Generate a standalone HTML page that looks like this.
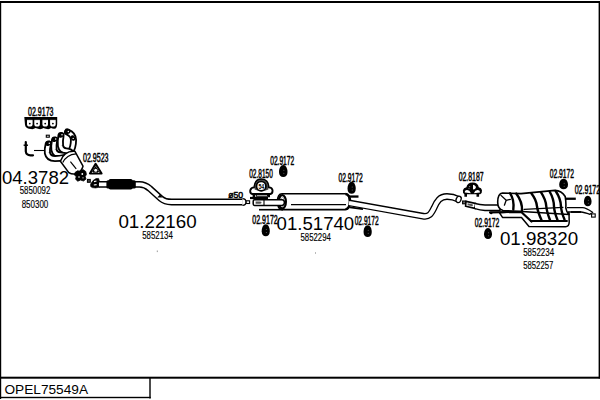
<!DOCTYPE html>
<html><head><meta charset="utf-8">
<style>
html,body{margin:0;padding:0;background:#fff;width:600px;height:400px;overflow:hidden}
svg{display:block}
.b{font-family:"Liberation Sans",sans-serif;font-size:12.2px;stroke:#000;stroke-width:0.5px}
.r{font-family:"Liberation Sans",sans-serif;font-size:10px;stroke:#000;stroke-width:0.15px}
.L{font-family:"Liberation Sans",sans-serif;font-size:19px}
</style></head><body>
<svg width="600" height="400" viewBox="0 0 600 400">
<!-- frame -->
<g fill="#000">
<rect x="0" y="1" width="600" height="2"/>
<rect x="0" y="1" width="1.2" height="398"/>
<rect x="598.6" y="1" width="1.4" height="377.5"/>
<rect x="0" y="376.7" width="600" height="2"/>
<rect x="149.3" y="377" width="1.4" height="21.5"/>
<rect x="0" y="396.8" width="150.7" height="1.4"/>
</g>
<text x="4.5" y="393.7" font-family="Liberation Sans" font-size="13.2" textLength="83.5" lengthAdjust="spacingAndGlyphs">OPEL75549A</text>


<!-- ===== LEFT: gasket 02.9173 ===== -->
<g id="gasket">
<path d="M24.3,117 H57.2 V124 Q57,128.5 54.5,128.8 Q52.5,129 51,128 Q49.5,129.5 47,129 Q44.5,128.5 43.5,128 Q41.5,129.5 39,129 Q37,128.5 35.5,128 Q33.5,129.5 31,129 Q28.5,128.8 27.5,128.3 Q25.5,128 25,125 Z" fill="#000"/>
<path d="M27,119.3 H32.6 V124.3 Q32.6,126.6 29.8,126.6 Q27,126.6 27,124.3Z M34.3,119.3 H39.9 V124.3 Q39.9,126.6 37.1,126.6 Q34.3,126.6 34.3,124.3Z M42.4,119.3 H48 V124.3 Q48,126.6 45.2,126.6 Q42.4,126.6 42.4,124.3Z M50.1,119.3 H55.7 V124.3 Q55.7,126.6 52.9,126.6 Q50.1,126.6 50.1,124.3Z" fill="#fff"/>
<path d="M26,119.6 H56" stroke="#000" stroke-width="0.9"/>
<circle cx="29.8" cy="123.6" r="0.9" fill="#000"/>
<circle cx="37.1" cy="123.6" r="0.9" fill="#000"/>
<circle cx="45.2" cy="123.6" r="0.9" fill="#000"/>
<circle cx="52.9" cy="123.6" r="0.9" fill="#000"/>
</g>
<!-- stud -->
<path d="M25.8,142 V151.5 Q26.2,155.2 30.5,155.3 H33" fill="none" stroke="#000" stroke-width="2.2" stroke-linecap="round"/>
<path d="M23.6,145.2 H28" stroke="#000" stroke-width="1.4"/>
<path d="M34,150.5 H44.5" stroke="#000" stroke-width="1.1"/>
<rect x="46.3" y="135.2" width="3" height="2" fill="none" stroke="#000" stroke-width="1.1"/>
<!-- manifold -->
<g fill="none" stroke-linecap="round" stroke-linejoin="round">
<path d="M67.5,132 Q73.5,134.5 73.5,140 Q73.5,148 70,152 Q67,155.5 63,157" stroke="#000" stroke-width="7"/>
<path d="M67.5,132 Q73.5,134.5 73.5,140 Q73.5,148 70,152 Q67,155.5 63,157" stroke="#fff" stroke-width="3.4"/>
<path d="M61,135.5 Q60,141 60.5,146 Q61.5,150.5 66,151 Q69,151.5 70,152" stroke="#000" stroke-width="7"/>
<path d="M61,135.5 Q60,141 60.5,146 Q61.5,150.5 66,151 Q69,151.5 70,152" stroke="#fff" stroke-width="3.4"/>
<path d="M54.6,140 Q53.5,146 54,150 Q55,154.5 60,155 Q64,155.5 66,156" stroke="#000" stroke-width="7"/>
<path d="M54.6,140 Q53.5,146 54,150 Q55,154.5 60,155 Q64,155.5 66,156" stroke="#fff" stroke-width="3.4"/>
<path d="M48.3,144 Q47,149 47.4,153 Q48.5,158.5 55,158.6 Q60,158.6 64,157.5" stroke="#000" stroke-width="7"/>
<path d="M48.3,144 Q47,149 47.4,153 Q48.5,158.5 55,158.6 Q60,158.6 64,157.5" stroke="#fff" stroke-width="3.4"/>
</g>
<g fill="#000">
<ellipse cx="48.4" cy="143.4" rx="3.1" ry="2.3" transform="rotate(-25 48.4 143.4)"/>
<ellipse cx="54.8" cy="139.4" rx="3.1" ry="2.3" transform="rotate(-25 54.8 139.4)"/>
<ellipse cx="61.1" cy="135.1" rx="3.1" ry="2.3" transform="rotate(-25 61.1 135.1)"/>
<ellipse cx="67.4" cy="131.6" rx="3.2" ry="2.4" transform="rotate(-15 67.4 131.6)"/>
<ellipse cx="73" cy="138" rx="2.2" ry="2.8" transform="rotate(-20 73 138)"/>
</g>
<g fill="#fff">
<circle cx="49.3" cy="143.2" r="0.75"/><circle cx="55.7" cy="139.1" r="0.75"/><circle cx="62" cy="134.8" r="0.75"/><circle cx="68.3" cy="131.4" r="0.75"/><circle cx="73.2" cy="138.4" r="0.7"/>
</g>
<!-- catalytic converter -->
<g stroke="#000" fill="#fff" stroke-width="1.5" stroke-linejoin="round">
<path d="M60.4,161.2 L68.8,172.6 Q72.5,175 77,173.6 Q81.5,171.6 83,166.2 L74.8,151.2 Q64,150.5 60.4,161.2Z"/>
<path d="M62.8,162.6 Q66.5,154.5 76,153.8" fill="none" stroke-width="1.2"/>
<path d="M70.4,161.6 L76.2,168.8" fill="none" stroke-width="1.2"/>
</g>
<!-- flange at cat bottom -->
<path d="M75,172.5 L77.5,170.8 L80,171.2 L83,169.6 L85.8,171.5 L86.4,174.5 L85.2,176.5 L86,179 L83.5,181 L80.5,180 L77.8,181.2 L75.6,179.2 L76.2,176.5 L74.4,175Z" fill="#000" stroke="#000" stroke-width="0.8" stroke-linejoin="round"/>
<g fill="#fff"><circle cx="82.3" cy="174" r="0.9"/><circle cx="79" cy="177" r="0.8"/><circle cx="83" cy="177.8" r="0.6"/></g>
<!-- triangle gasket -->
<path d="M95.6,163.8 L89.9,173.5 H101.6 Z" fill="#fff" stroke="#000" stroke-width="2" stroke-linejoin="round"/>
<path d="M95.6,166 L91.5,172.6 H99.7Z" fill="#000"/><circle cx="95.7" cy="170.2" r="1.5" fill="#fff"/><circle cx="92.6" cy="172.3" r="0.5" fill="#fff"/><circle cx="98.6" cy="172.3" r="0.5" fill="#fff"/>
<!-- connector flange -->
<rect x="87.4" y="179.4" width="2.9" height="2.9" fill="#444" stroke="#000" stroke-width="1"/>
<path d="M90.6,184 L93,180.6 L96,178.6 L98.6,178.4 L99.4,181 L98.8,184.5 L99.4,187.2 L95.5,188 L92.2,187.6 L90.6,186.4Z" fill="#000" stroke="#000" stroke-width="0.6" stroke-linejoin="round"/>
<path d="M94,181.6 L96.5,181 M93.8,185 L96.6,184.6" stroke="#fff" stroke-width="1.1"/>
<!-- front pipe -->
<path d="M99,184.4 H139.5 C144,184.4 146.5,185.8 149.8,188.6 L160.8,198.6 C164,201.4 166.5,202 171.5,202 H242.5" fill="none" stroke="#000" stroke-width="6.8"/>
<path d="M99,184.4 H139.5 C144,184.4 146.5,185.8 149.8,188.6 L160.8,198.6 C164,201.4 166.5,202 171.5,202 H242.5" fill="none" stroke="#fff" stroke-width="3.9"/>
<path d="M242.5,199.3 Q245.4,199.3 245.4,202 Q245.4,204.7 242.5,204.7Z" fill="#fff"/><path d="M242.5,198.7 Q246,198.7 246,202 Q246,205.3 242.5,205.3" fill="none" stroke="#000" stroke-width="1.3"/>
<path d="M157.2,197.4 L162.4,197.6 L160,194.6Z" fill="#000"/>
<!-- flex -->
<rect x="108.6" y="179" width="24" height="10.6" rx="1.8" fill="#000"/><rect x="106.4" y="180.2" width="29.4" height="8.4" rx="1.6" fill="#000"/>

<rect x="246.2" y="200.8" width="3.4" height="2.7" fill="#fff" stroke="#000" stroke-width="1.1"/>


<!-- ===== MIDDLE ===== -->
<!-- clamp 02.8150 -->
<g id="clamp1">
<path d="M252.3,194 Q249.8,193.5 250.3,190.2 Q251,187.6 254.2,187.4 Q255,179.2 261.5,179.2 Q268.2,179.4 268.8,187.4 Q272.2,187.6 272.5,190.2 Q272.8,193.5 270.4,194Z" fill="#fff" stroke="#000" stroke-width="1.9"/>
<path d="M254.6,189.5 Q254.6,179.8 261.5,179.8 Q268.4,179.8 268.4,189.5 Q261.5,193 254.6,189.5Z" fill="#444"/>
<circle cx="261.2" cy="186.2" r="4.7" fill="#fff" stroke="#000" stroke-width="1.7"/>
<text x="258.4" y="189" font-family="Liberation Sans" font-weight="bold" font-size="7.5" textLength="5.8" lengthAdjust="spacingAndGlyphs">54</text>
<path d="M253.8,193.5 V197.2 M268.8,193.5 V197.2" stroke="#000" stroke-width="2.4"/>
<rect x="256.2" y="194.4" width="11.4" height="1.8" fill="#fff" stroke="#000" stroke-width="1.1"/>
</g>
<!-- inlet sleeve + pipe -->
<rect x="259" y="208.9" width="24" height="1.6" fill="#000"/>
<!-- muffler -->
<path d="M282,193.7 H345 Q349.5,193.7 349.5,201.6 Q349.5,209.6 345,209.6 H282 Q277.5,209.6 277.5,201.6 Q277.5,193.7 282,193.7Z" fill="#fff" stroke="#000" stroke-width="1.6"/>
<ellipse cx="282.3" cy="201.8" rx="3.6" ry="6.6" fill="#fff" stroke="#000" stroke-width="2.2"/>
<ellipse cx="282.6" cy="202" rx="1.8" ry="4.6" fill="none" stroke="#999" stroke-width="1"/>
<path d="M254.5,199.8 H282 Q284.4,199.8 284.4,202.6 Q284.4,205.4 282,205.4 H254.5 Q253.2,205.4 253.2,204 V201.2 Q253.2,199.8 254.5,199.8Z" fill="#fff" stroke="#000" stroke-width="1.5"/>
<path d="M264,200 V205.2" stroke="#000" stroke-width="1.1"/>
<path d="M255.6,201.4 H259.5 Q261.6,201.4 261.6,202.6 Q261.6,203.8 259.5,203.8 H255.6Z" fill="#555"/>
<path d="M250,198 H268" stroke="#000" stroke-width="2.2"/>
<path d="M291,204.6 H346" stroke="#000" stroke-width="1.4"/>
<path d="M345.5,194 Q349.8,194.5 350.2,201.6 Q349.8,208.8 345.5,209.4" fill="none" stroke="#000" stroke-width="2.4"/>
<rect x="348" y="195.4" width="10.5" height="2.3" fill="#000"/>
<path d="M350,207.4 L363,209.2" stroke="#000" stroke-width="1.7"/>
<!-- intermediate pipe -->
<path d="M350,203 L423,216.2 C429,217.3 431,214 434,208 C437,201 440,196.5 447,196.5 C452,196.5 455,197.5 458.5,199.3" fill="none" stroke="#000" stroke-width="6.8" stroke-linejoin="round"/>
<path d="M349,203 L423,216.2 C429,217.3 431,214 434,208 C437,201 440,196.5 447,196.5 C452,196.5 455,197.5 458.5,199.3" fill="none" stroke="#fff" stroke-width="4.2" stroke-linejoin="round"/>
<ellipse cx="458.6" cy="199.4" rx="2.4" ry="3.3" transform="rotate(25 458.6 199.4)" fill="#fff" stroke="#000" stroke-width="1.3"/>

<!-- ===== REAR ===== -->
<!-- clamp 02.8187 -->
<g id="clamp2">
<path d="M464.5,194.2 Q462.4,193 462.9,190.2 Q463.5,187.8 466.4,187.3 Q467.2,182.4 472.6,182.4 Q478,182.4 478.8,187.3 Q481.6,187.8 482,190.2 Q482.3,193 480.2,194.2Z" fill="#000"/>
<path d="M464.8,192.6 Q464.6,190.2 467,190.1 Q469.6,190 470.9,193.2Z M480,192.6 Q480.2,190.2 477.8,190.1 Q475.2,190 473.8,193.2Z" fill="#fff"/>
<path d="M473,184.8 Q476.2,185.8 475.9,187.6 Q475.6,189.4 473,189.6Z" fill="#fff"/>
<circle cx="469.6" cy="186.6" r="0.7" fill="#888"/><circle cx="469" cy="188.6" r="0.6" fill="#888"/>
<path d="M465.7,194 V196.8 M477.8,194 V196.8" stroke="#000" stroke-width="2.6"/>
</g>
<rect x="462.6" y="201" width="3.2" height="2.8" fill="#666" stroke="#000" stroke-width="1.1"/>
<path d="M466,201.4 L475.5,203.4 L475,208.4 L465.6,206.2Z" fill="#fff" stroke="#000" stroke-width="1.6"/>
<path d="M467.6,203.2 L472.5,204.2 Q473.6,205.4 472.3,206.2 L467.5,205.2Z" fill="#555"/>
<path d="M475,203.6 Q480,204.8 485,204.9 H500 V210.4 H485 Q480,210.2 475,208.6" fill="#fff" stroke="#000" stroke-width="1.5"/>
<!-- rear muffler -->
<g id="rmuf" stroke="#000" fill="#fff" stroke-linejoin="round" stroke-linecap="round">
<path d="M499.5,212.8 L502.5,217.4 L521.5,217.6 L529,226.4 L565.5,226.8 Q569.2,226.5 569.2,222 L569,213 L520,211Z" stroke-width="1.5"/>
<path d="M531,221 H567" fill="none" stroke-width="1.9"/>
<path d="M502.5,193 L521,193.6 L555,190.4 Q561.5,190.6 565.2,196.5 Q566.2,202 565.8,208 Q566.5,211.5 569,214.5 L522,211.5 L503,210.5 Q497.6,209 497.7,202 Q497.8,193.5 502.5,193Z" stroke-width="1.6"/>
<path d="M490,212.4 L521,211.8 L531.5,221.5" fill="none" stroke-width="2.2"/>
<circle cx="491.2" cy="213" r="1.3" fill="#000" stroke="none"/>
<path d="M501,195.4 L506.2,200.3 L510.4,199.3 M506.2,200.3 L504.4,205.2" fill="none" stroke-width="1.3"/>
<path d="M524,209.4 L563,207.4" fill="none" stroke-width="1.1"/>
<g fill="none" stroke-width="2.4">
<path d="M510,193.2 Q514.5,200 513.3,209.5"/>
<path d="M516.2,193.6 Q522.6,202 522,211"/>
<path d="M531.3,193.3 Q536.5,200 537,206.5 Q537.8,212 541.5,220"/>
<path d="M540.9,192.2 Q546,200 546.3,206.5 Q546.8,212 550,220"/>
<path d="M549.6,191.5 Q553.9,199 554,206.5 Q554.3,212 557.5,220"/>
<path d="M555.7,191 Q560.9,199 561,206.5 Q561.3,212 564.5,219.5"/>
</g>
</g>
<rect x="566" y="197.6" width="9.8" height="2.3" fill="#000"/>
<!-- tailpipe -->
<path d="M567,207.6 H582.5 Q586,207.8 592.5,212.2 L590,214.3 Q584,212.2 581,212 H568" fill="#fff" stroke="#000" stroke-width="1.3"/>
<path d="M571,212 H581" stroke="#000" stroke-width="1.8"/>
<rect x="591.6" y="213.9" width="3.6" height="3.2" fill="#fff" stroke="#000" stroke-width="1.1"/>
<!-- rubber mounts -->
<g fill="#000">
<path d="M283.25,165.00 C285.80,165.00 287.50,168.30 287.50,171.90 C287.50,175.20 285.80,177.00 283.25,177.00 C280.70,177.00 279.00,175.20 279.00,171.90 C279.00,168.30 280.70,165.00 283.25,165.00Z"/>
<path d="M265.75,224.30 C268.18,224.30 269.80,227.60 269.80,231.20 C269.80,234.50 268.18,236.30 265.75,236.30 C263.32,236.30 261.70,234.50 261.70,231.20 C261.70,227.60 263.32,224.30 265.75,224.30Z"/>
<path d="M351.65,181.80 C354.11,181.80 355.75,185.10 355.75,188.70 C355.75,192.00 354.11,193.80 351.65,193.80 C349.19,193.80 347.55,192.00 347.55,188.70 C347.55,185.10 349.19,181.80 351.65,181.80Z"/>
<path d="M367.65,225.15 C370.11,225.15 371.75,228.40 371.75,231.94 C371.75,235.18 370.11,236.95 367.65,236.95 C365.19,236.95 363.55,235.18 363.55,231.94 C363.55,228.40 365.19,225.15 367.65,225.15Z"/>
<path d="M563.60,178.75 C566.24,178.75 568.00,181.67 568.00,184.84 C568.00,187.76 566.24,189.35 563.60,189.35 C560.96,189.35 559.20,187.76 559.20,184.84 C559.20,181.67 560.96,178.75 563.60,178.75Z"/>
<path d="M587.75,195.70 C590.03,195.70 591.55,198.62 591.55,201.79 C591.55,204.71 590.03,206.30 587.75,206.30 C585.47,206.30 583.95,204.71 583.95,201.79 C583.95,198.62 585.47,195.70 587.75,195.70Z"/>
<path d="M488.00,227.90 C490.40,227.90 492.00,230.98 492.00,234.34 C492.00,237.42 490.40,239.10 488.00,239.10 C485.60,239.10 484.00,237.42 484.00,234.34 C484.00,230.98 485.60,227.90 488.00,227.90Z"/>
</g>
<g fill="#666">
<circle cx="283.85" cy="170.20" r="0.55"/><circle cx="283.85" cy="173.20" r="0.55"/>
<circle cx="266.35" cy="229.50" r="0.55"/><circle cx="266.35" cy="232.50" r="0.55"/>
<circle cx="352.25" cy="187.00" r="0.55"/><circle cx="352.25" cy="190.00" r="0.55"/>
<circle cx="368.25" cy="230.25" r="0.55"/><circle cx="368.25" cy="233.25" r="0.55"/>
<circle cx="564.20" cy="183.25" r="0.55"/><circle cx="564.20" cy="186.25" r="0.55"/>
<circle cx="588.35" cy="200.20" r="0.55"/><circle cx="588.35" cy="203.20" r="0.55"/>
<circle cx="488.60" cy="232.70" r="0.55"/><circle cx="488.60" cy="235.70" r="0.55"/>
</g>
<rect x="156.8" y="250.5" width="1" height="1.6" fill="#999"/>
<rect x="315" y="252.2" width="1" height="1.6" fill="#aaa"/>
<!-- labels bold condensed -->
<g class="b">
<text x="228.2" y="197.8" style="font-size:9.4px" textLength="15" lengthAdjust="spacingAndGlyphs">ø50</text>
<text x="28" y="115.7" textLength="25.5" lengthAdjust="spacingAndGlyphs">02.9173</text>
<text x="83" y="162.4" textLength="25.5" lengthAdjust="spacingAndGlyphs">02.9523</text>
<text x="270.2" y="165" textLength="24" lengthAdjust="spacingAndGlyphs">02.9172</text>
<text x="249.2" y="178" textLength="23.6" lengthAdjust="spacingAndGlyphs">02.8150</text>
<text x="252.3" y="223.7" textLength="25.4" lengthAdjust="spacingAndGlyphs">02.9172</text>
<text x="338.5" y="181.7" textLength="24.3" lengthAdjust="spacingAndGlyphs">02.9172</text>
<text x="354.7" y="224.8" textLength="23.9" lengthAdjust="spacingAndGlyphs">02.9172</text>
<text x="458.7" y="181.3" textLength="24.9" lengthAdjust="spacingAndGlyphs">02.8187</text>
<text x="549.7" y="178" textLength="24.3" lengthAdjust="spacingAndGlyphs">02.9172</text>
<text x="574.7" y="194.3" textLength="25.5" lengthAdjust="spacingAndGlyphs">02.9172</text>
<text x="474.7" y="227" textLength="24.6" lengthAdjust="spacingAndGlyphs">02.9172</text>
</g>
<g class="r">
<text x="19.7" y="193.8" textLength="30.6" lengthAdjust="spacingAndGlyphs">5850092</text>
<text x="21.7" y="207.8" textLength="26.6" lengthAdjust="spacingAndGlyphs">850300</text>
<text x="142.2" y="238.8" textLength="30.6" lengthAdjust="spacingAndGlyphs">5852134</text>
<text x="300.5" y="240.5" textLength="30.3" lengthAdjust="spacingAndGlyphs">5852294</text>
<text x="523.2" y="256.2" textLength="30.9" lengthAdjust="spacingAndGlyphs">5852234</text>
<text x="523.2" y="269.0" textLength="30.1" lengthAdjust="spacingAndGlyphs">5852257</text>
</g>
<g class="L">
<text x="2" y="183.7" textLength="67" lengthAdjust="spacingAndGlyphs">04.3782</text>
<text x="118.4" y="227.8" textLength="78.3" lengthAdjust="spacingAndGlyphs">01.22160</text>
<text x="276.6" y="229.5" textLength="77.6" lengthAdjust="spacingAndGlyphs">01.51740</text>
<text x="499.9" y="244.8" textLength="78.2" lengthAdjust="spacingAndGlyphs">01.98320</text>
</g>
</svg>
</body></html>
